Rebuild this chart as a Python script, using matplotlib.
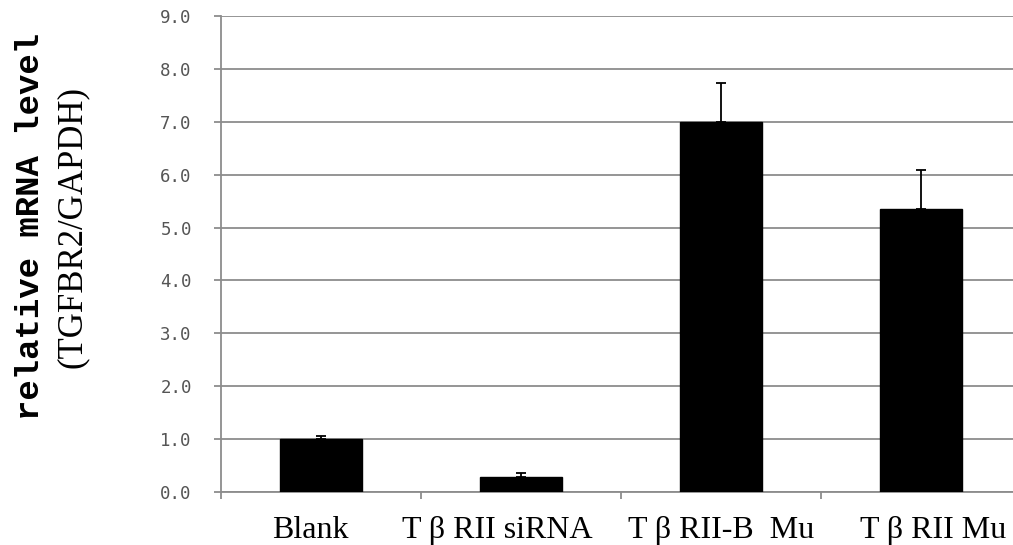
import numpy as np
import matplotlib.pyplot as plt
from matplotlib.transforms import ScaledTranslation

groups = ["Blank", "T β RII siRNA", "T β RII-B  Mu", "T β RII Mu"]
level = [1.0, 0.28, 7.0, 5.35]
err_up = [0.06, 0.07, 0.73, 0.74]
yticks = [0, 1, 2, 3, 4, 5, 6, 7, 8, 9]

fig = plt.figure(figsize=(10.13, 5.45), dpi=100)
ax = fig.add_axes([221 / 1013, 1 - 492 / 545, 1 - 221 / 1013, (492 - 16) / 545])

x = np.arange(len(groups))
ax.bar(x, level, width=0.41, color="black", edgecolor="black", zorder=3)
ax.errorbar(x, level, yerr=[np.zeros(len(level)), err_up], fmt="none",
            ecolor="black", elinewidth=1.3, capsize=3.8, capthick=1.3, zorder=4)

ax.set_xlim(-0.5, 3.46)
ax.set_ylim(0, 9)
ax.set_yticks(yticks)
ax.set_yticklabels([f"{v:.1f}" for v in yticks], family="DejaVu Sans Mono",
                   fontsize=12.5, color="#555555")
ax.grid(axis="y", color="#8c8c8c", lw=1.3, zorder=0)
ax.set_axisbelow(True)

ax.set_xticks(x)
ax.set_xticklabels(groups, family="Liberation Serif", fontsize=23)
ax.set_xticks([-0.5, 0.5, 1.5, 2.5], minor=True)
ax.tick_params(axis="x", which="major", length=0, pad=17)
ax.tick_params(axis="x", which="minor", length=5, color="#8c8c8c", width=1.3)
ax.tick_params(axis="y", length=5, color="#8c8c8c", width=1.3, pad=16)

# labels in the original sit a little off their bar centres
shifts = [-11, -24, 0, 12]
for lab, dx in zip(ax.get_xticklabels(), shifts):
    lab.set_transform(lab.get_transform() + ScaledTranslation(dx / 100, 0, fig.dpi_scale_trans))

for s in ["top", "right"]:
    ax.spines[s].set_visible(False)
ax.spines["left"].set_color("#8c8c8c")
ax.spines["left"].set_linewidth(1.3)
ax.spines["bottom"].set_color("#8c8c8c")
ax.spines["bottom"].set_linewidth(1.3)

fig.text(31 / 1013, 1 - 226 / 545, "relative mRNA level", rotation=90,
         ha="center", va="center", family="Liberation Mono", weight="bold",
         fontsize=24.5)
fig.text(72 / 1013, 1 - 227 / 545, "(TGFBR2/GAPDH)", rotation=90,
         ha="center", va="center", family="Liberation Serif", fontsize=25)

fig.savefig("out.png", dpi=100)
